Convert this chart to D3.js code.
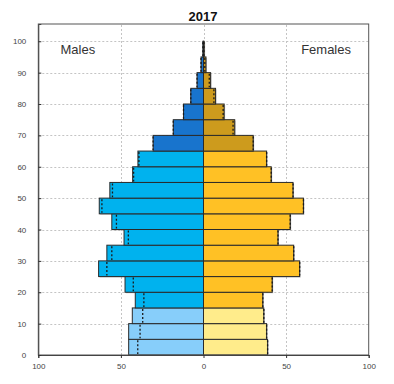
<!DOCTYPE html>
<html><head><meta charset="utf-8">
<script src="https://cdn.jsdelivr.net/npm/d3@7"></script>
<style>body{margin:0;background:#fff}svg{display:block}</style>
</head><body><div id="chart"></div>
<script>
const title = "2017";
const ageStarts = [0,5,10,15,20,25,30,35,40,45,50,55,60,65,70,75,80,85,90,95];
const males =   [45.3,45.3,43.1,41.3,47.5,63.5,58.5,48.1,55.5,63.1,56.7,42.9,39.7,30.5,18.3,12.1,7.7,3.9,1.5,0.4];
const females = [38.8,38.2,36.5,35.9,41.6,58.2,54.6,45.1,52.5,60.5,54.2,41.0,38.2,30.1,18.9,12.5,7.3,4.3,1.5,0.4];
const malesRef =   [39.8,38.4,36.8,36.1,42.5,58.5,55.5,45.5,52.7,61.5,55.1,42.3,39.1,30.5,18.3,12.1,7.7,3.9,1.5,0.4];
const femalesRef = [38.8,38.2,36.5,35.9,41.6,58.2,54.6,45.1,52.5,60.5,54.2,41.0,38.2,30.1,17.9,11.9,6.3,3.5,0.8,0.3];
const xTicks = [-100,-50,0,50,100];
const yTicks = [0,10,20,30,40,50,60,70,80,90,100];
const maleColors = {young:"#87CEFA", work:"#00B2EE", old:"#1874CD"};
const femaleColors = {young:"#FFEC8B", work:"#FFC125", old:"#CD9B1D"};

const W = 394, H = 384;
const svg = d3.select("#chart").append("svg").attr("width", W).attr("height", H);
const x = d3.scaleLinear().domain([-100,100]).range([38.3,368.7]);
const y = d3.scaleLinear().domain([0,105.5]).range([355,24]);
const group = a => a < 15 ? "young" : (a < 65 ? "work" : "old");

// grid
const g = svg.append("g");
g.selectAll(".hg").data(yTicks).enter().append("line")
  .attr("x1", x(-100)).attr("x2", x(100))
  .attr("y1", d=>Math.round(y(d))+0.5).attr("y2", d=>Math.round(y(d))+0.5)
  .attr("stroke","#c4c4c4").attr("stroke-dasharray","2,2");
g.selectAll(".vg").data([-50,0,50]).enter().append("line")
  .attr("x1", d=>Math.round(x(d))+0.5).attr("x2", d=>Math.round(x(d))+0.5)
  .attr("y1", y(0)).attr("y2", y(105.5))
  .attr("stroke","#c4c4c4").attr("stroke-dasharray","2,2");

const data = ageStarts.map((a,i)=>({a, m:males[i], f:females[i], mr:malesRef[i], fr:femalesRef[i]}));

// shadows
const sh = svg.append("g").attr("opacity",0.45);
sh.selectAll(".ms").data(data).enter().append("rect")
  .attr("x", d=>x(-d.m)+1).attr("y", d=>y(d.a+5)+1)
  .attr("width", d=>x(0)-x(-d.m)).attr("height", d=>y(d.a)-y(d.a+5))
  .attr("fill","#888");
sh.selectAll(".fs").data(data).enter().append("rect")
  .attr("x", d=>x(0)+1).attr("y", d=>y(d.a+5)+1)
  .attr("width", d=>x(d.f)-x(0)).attr("height", d=>y(d.a)-y(d.a+5))
  .attr("fill","#888");

// bars
const b = svg.append("g");
b.selectAll(".m").data(data).enter().append("rect")
  .attr("x", d=>x(-d.m)).attr("y", d=>y(d.a+5))
  .attr("width", d=>x(0)-x(-d.m)).attr("height", d=>y(d.a)-y(d.a+5))
  .attr("fill", d=>maleColors[group(d.a)]).attr("stroke","#2a2a2a").attr("stroke-width",1);
b.selectAll(".f").data(data).enter().append("rect")
  .attr("x", d=>x(0)).attr("y", d=>y(d.a+5))
  .attr("width", d=>x(d.f)-x(0)).attr("height", d=>y(d.a)-y(d.a+5))
  .attr("fill", d=>femaleColors[group(d.a)]).attr("stroke","#2a2a2a").attr("stroke-width",1);

// reference dotted lines
b.selectAll(".mr").data(data).enter().append("line")
  .attr("x1", d=>x(-d.mr)).attr("x2", d=>x(-d.mr))
  .attr("y1", d=>y(d.a+5)+1).attr("y2", d=>y(d.a)-1)
  .attr("stroke","#1a1a1a").attr("stroke-width",1.3).attr("stroke-dasharray","2,2");
b.selectAll(".fr").data(data).enter().append("line")
  .attr("x1", d=>x(d.fr)).attr("x2", d=>x(d.fr))
  .attr("y1", d=>y(d.a+5)+1).attr("y2", d=>y(d.a)-1)
  .attr("stroke","#1a1a1a").attr("stroke-width",1.3).attr("stroke-dasharray","2,2");

// frame
svg.append("rect").attr("x", x(-100)).attr("y", y(105.5))
  .attr("width", x(100)-x(-100)).attr("height", y(0)-y(105.5))
  .attr("fill","none").attr("stroke","#555").attr("stroke-width",1);

// axes
const xa = svg.append("g").attr("transform",`translate(0,${y(0)})`)
  .call(d3.axisBottom(x).tickValues(xTicks).tickFormat(d=>Math.abs(d)).tickSize(3).tickPadding(5));
const ya = svg.append("g").attr("transform",`translate(${x(-100)},0)`)
  .call(d3.axisLeft(y).tickValues(yTicks).tickSize(-3).tickPadding(12));
[xa, ya].forEach(a=>{
  a.select(".domain").attr("stroke","#444");
  a.selectAll(".tick line").attr("stroke","#333");
  a.selectAll("text").attr("font-family","Liberation Sans, Arial, sans-serif").attr("font-size","8px").attr("fill","#444");
});

// texts
svg.append("text").attr("x", x(0)-0.5).attr("y", 21).attr("text-anchor","middle")
  .attr("font-family","Liberation Sans, Arial, sans-serif").attr("font-weight","bold").attr("font-size","13px").attr("fill","#111").text(title);
svg.append("text").attr("x", 60.5).attr("y", 54).attr("font-family","Liberation Sans, Arial, sans-serif")
  .attr("font-size","13px").attr("fill","#333").text("Males");
svg.append("text").attr("x", 351).attr("y", 54).attr("text-anchor","end").attr("font-family","Liberation Sans, Arial, sans-serif")
  .attr("font-size","13px").attr("fill","#333").text("Females");
</script></body></html>
